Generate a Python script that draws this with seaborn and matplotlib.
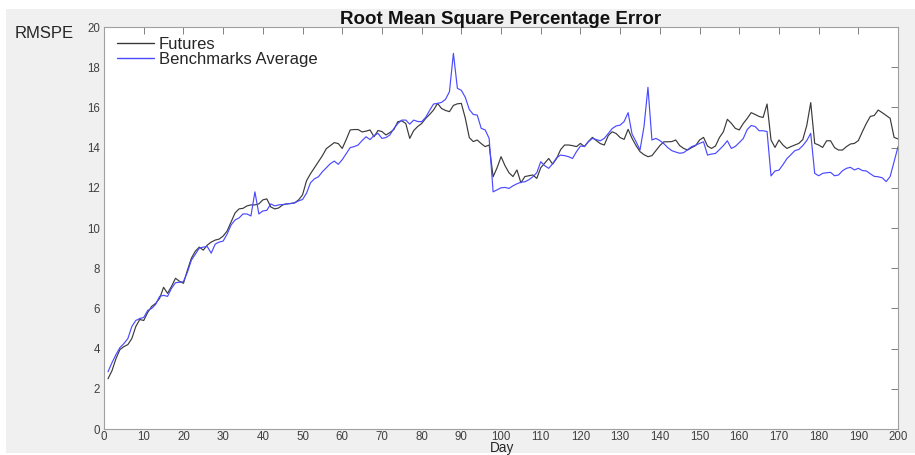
import numpy as np
import pandas as pd
import seaborn as sns
import matplotlib.pyplot as plt
from matplotlib.patches import Rectangle
from matplotlib.lines import Line2D

days = list(range(1, 201))

futures = [
    2.5, 2.9, 3.5, 3.95, 4.1, 4.2, 4.5, 5.1, 5.45, 5.4,
    5.8, 6.1, 6.25, 6.5, 7.05, 6.75, 7.1, 7.5, 7.35, 7.25,
    7.9, 8.5, 8.85, 9.05, 8.9, 9.15, 9.3, 9.4, 9.45, 9.6,
    9.85, 10.3, 10.75, 10.95, 10.98, 11.1, 11.15, 11.15, 11.2, 11.4,
    11.45, 11.05, 10.95, 11.0, 11.15, 11.2, 11.22, 11.25, 11.4, 11.65,
    12.35, 12.7, 13.0, 13.3, 13.6, 13.95, 14.1, 14.25, 14.2, 13.96,
    14.4, 14.88, 14.9, 14.9, 14.78, 14.82, 14.88, 14.54, 14.85, 14.8,
    14.63, 14.75, 14.9, 15.29, 15.33, 15.2, 14.46, 14.85, 15.05, 15.2,
    15.45, 15.65, 15.87, 16.2, 15.95, 15.85, 15.79, 16.1, 16.18, 16.2,
    15.46, 14.5, 14.3, 14.38, 14.2, 14.05, 14.13, 12.55, 13.0, 13.55,
    13.1, 12.75, 12.56, 12.89, 12.25, 12.56, 12.6, 12.64, 12.47, 13.0,
    13.23, 13.46, 13.18, 13.46, 13.9, 14.13, 14.13, 14.1, 14.05, 14.21,
    14.05, 14.3, 14.51, 14.35, 14.2, 14.13, 14.6, 14.79, 14.7, 14.5,
    14.41, 14.91, 14.46, 14.1, 13.8, 13.65, 13.55, 13.6, 13.85, 14.1,
    14.29, 14.29, 14.3, 14.38, 14.1, 13.96, 13.88, 14.0, 14.1, 14.38,
    14.51, 14.08, 13.96, 14.08, 14.5, 14.79, 15.41, 15.21, 14.96, 14.88,
    15.2, 15.45, 15.74, 15.65, 15.55, 15.5, 16.17, 14.38, 14.01, 14.38,
    14.13, 13.96, 14.05, 14.13, 14.21, 14.4, 15.1, 16.24, 14.21, 14.13,
    14.01, 14.34, 14.34, 14.0, 13.88, 13.88, 14.05, 14.18, 14.21, 14.35,
    14.79, 15.2, 15.55, 15.6, 15.87, 15.74, 15.6, 15.46, 14.51, 14.43,
]

benchmarks = [
    2.85, 3.3, 3.7, 4.05, 4.25, 4.5, 5.1, 5.4, 5.5, 5.55,
    5.9, 6.0, 6.2, 6.6, 6.65, 6.6, 7.0, 7.28, 7.3, 7.33,
    7.8, 8.4, 8.7, 9.0, 9.05, 9.08, 8.75, 9.2, 9.3, 9.35,
    9.7, 10.15, 10.4, 10.5, 10.7, 10.7, 10.6, 11.8, 10.7, 10.85,
    10.88, 11.2, 11.1, 11.15, 11.17, 11.2, 11.22, 11.25, 11.35, 11.42,
    11.73, 12.25, 12.45, 12.55, 12.8, 13.0, 13.2, 13.33, 13.17, 13.4,
    13.7, 14.0, 14.05, 14.13, 14.35, 14.54, 14.4, 14.6, 14.71, 14.46,
    14.5, 14.63, 14.95, 15.2, 15.37, 15.37, 15.17, 15.37, 15.3, 15.29,
    15.5, 15.85, 16.17, 16.2, 16.25, 16.4, 16.78, 18.69, 16.95, 16.85,
    16.5, 15.9, 15.65, 15.62, 14.96, 14.88, 14.46, 11.8, 11.9, 12.0,
    12.02, 11.97, 12.1, 12.2, 12.28, 12.3, 12.4, 12.55, 12.75, 13.3,
    13.1, 12.97, 13.2, 13.5, 13.63, 13.6, 13.55, 13.46, 13.8, 14.08,
    14.06, 14.3, 14.46, 14.4, 14.34, 14.46, 14.7, 14.95, 15.08, 15.12,
    15.3, 15.74, 14.67, 14.3, 13.88, 15.04, 17.0, 14.38, 14.46, 14.35,
    14.2, 14.0, 13.85, 13.78, 13.72, 13.75, 13.9, 14.05, 14.12, 14.21,
    14.29, 13.63, 13.68, 13.71, 13.9, 14.1, 14.34, 13.96, 14.06, 14.25,
    14.45, 14.9, 15.1, 15.05, 14.84, 14.84, 14.8, 12.59, 12.84, 12.88,
    13.15, 13.45, 13.65, 13.85, 13.91, 14.1, 14.35, 14.71, 12.72, 12.6,
    12.72, 12.75, 12.77, 12.6, 12.64, 12.85, 12.97, 13.02, 12.89, 12.97,
    12.86, 12.84, 12.7, 12.57, 12.55, 12.5, 12.31, 12.56, 13.3, 14.05,
]

series_names = ['Futures', 'Benchmarks Average']
colors = ['#3a3a3a', '#4a4aff']

df = pd.concat([
    pd.DataFrame({'Day': days, 'RMSPE': futures, 'Series': series_names[0]}),
    pd.DataFrame({'Day': days, 'RMSPE': benchmarks, 'Series': series_names[1]}),
])

sns.set_style('white')
plt.rcParams['font.family'] = ['Liberation Sans', 'DejaVu Sans']

fig = plt.figure(figsize=(9.15, 4.55), dpi=100, facecolor='white')
# matlab style grey window behind everything
fig.patches.append(Rectangle((0.0066, 0.004), 1.0, 0.976, transform=fig.transFigure,
                             facecolor='#f0f0f0', edgecolor='none', zorder=-10))
ax = fig.add_axes([0.1137, 0.0571, 0.8678, 0.8835])
ax.set_facecolor('white')

sns.lineplot(data=df, x='Day', y='RMSPE', hue='Series', palette=colors,
             linewidth=0.85, ax=ax, legend=False)

ax.set_xlim(0, 200)
ax.set_ylim(0, 20)
ax.set_xticks(np.arange(0, 201, 10))
ax.set_yticks(np.arange(0, 21, 2))
ax.tick_params(direction='in', length=5, width=0.7, colors='#808080',
               labelcolor='#404040', labelsize=8.3, top=True, right=True,
               pad=3)
ax.tick_params(axis='x', labeltop=False, pad=1.5)
ax.tick_params(axis='y', labelright=False)
for s in ax.spines.values():
    s.set_color('#a0a0a0')
    s.set_linewidth(0.8)
ax.set_xlabel('')
ax.set_ylabel('')

ax.set_title('Root Mean Square Percentage Error', fontsize=13.5,
             fontweight='bold', pad=2, color='#111111')
fig.text(0.016, 0.927, 'RMSPE', fontsize=12, color='#262626', va='center')
fig.text(0.549, 0.006, 'Day', fontsize=9.8, color='#262626', ha='center',
         va='baseline')

handles = [Line2D([], [], color=c, linewidth=1.0) for c in colors]
ax.legend(handles, series_names, loc='upper left', frameon=False,
          fontsize=12, handlelength=2.2, handletextpad=0.3,
          labelspacing=0.0, borderaxespad=0.2, bbox_to_anchor=(0.004, 1.0))

fig.savefig('out.png', dpi=100, facecolor=fig.get_facecolor())
